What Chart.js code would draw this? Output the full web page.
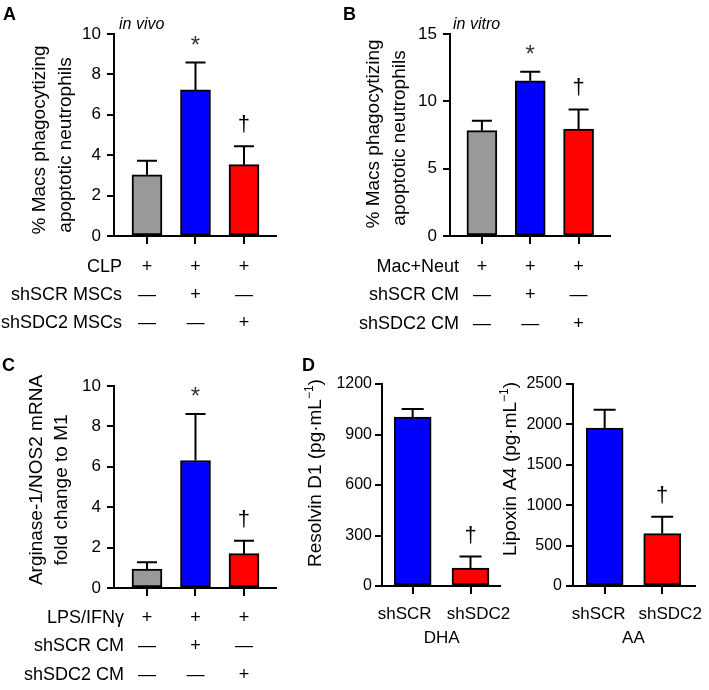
<!DOCTYPE html>
<html>
<head>
<meta charset="utf-8">
<title>Figure panels A-D</title>
<script src="https://cdn.jsdelivr.net/npm/chart.js@4.4.1/dist/chart.umd.min.js"></script>
<style>
  html, body { margin: 0; padding: 0; background: #fff; }
  #wrap { position: relative; width: 709px; height: 690px; overflow: hidden; }
  #wrap canvas { position: absolute; left: 0; top: 0; }
</style>
</head>
<body>
<div id="wrap">
  <canvas id="chartA" width="709" height="690"></canvas>
  <canvas id="chartB" width="709" height="690"></canvas>
  <canvas id="chartC" width="709" height="690"></canvas>
  <canvas id="chartD1" width="709" height="690"></canvas>
  <canvas id="chartD2" width="709" height="690"></canvas>
</div>
<script>
// ---- data ----
// A: in vivo
const rowLabelsA = ["CLP", "shSCR MSCs", "shSDC2 MSCs"];
const rowSignsA = [["+", "+", "+"], ["—", "+", "—"], ["—", "—", "+"]];
const valuesA = [3.03, 7.23, 3.53];
const errorsA = [3.73, 8.59, 4.44];
const marksA = ["", "*", "†"];
const ticksA = [0, 2, 4, 6, 8, 10];

// B: in vitro
const rowLabelsB = ["Mac+Neut", "shSCR CM", "shSDC2 CM"];
const rowSignsB = [["+", "+", "+"], ["—", "+", "—"], ["—", "—", "+"]];
const valuesB = [7.82, 11.53, 7.94];
const errorsB = [8.56, 12.2, 9.4];
const marksB = ["", "*", "†"];
const ticksB = [0, 5, 10, 15];

// C: arginase-1 / NOS2
const rowLabelsC = ["LPS/IFNγ", "shSCR CM", "shSDC2 CM"];
const rowSignsC = [["+", "+", "+"], ["—", "+", "—"], ["—", "—", "+"]];
const valuesC = [0.94, 6.31, 1.70];
const errorsC = [1.28, 8.62, 2.34];
const marksC = ["", "*", "†"];
const ticksC = [0, 2, 4, 6, 8, 10];

// D: resolvin D1 (DHA) and lipoxin A4 (AA)
const groupsD = ["shSCR", "shSDC2"];
const resolvinD1 = [1003, 106];
const resolvinErr = [1052, 175];
const marksD1 = ["", "†"];
const ticksD1 = [0, 300, 600, 900, 1200];
const lipoxinA4 = [1954, 649];
const lipoxinErr = [2180, 858];
const marksD2 = ["", "†"];
const ticksD2 = [0, 500, 1000, 1500, 2000, 2500];

const W = 709, H = 690;
const FONT = "'Liberation Sans', Arial, Helvetica, sans-serif";
const GREY = "#999999", BLUE = "#0000ff", RED = "#ff0000";

// draw text rotated -90deg, centred on cy, baseline at bx; parts may be superscript
function drawRotated(ctx, parts, bx, cy, size) {
  const main = size + "px " + FONT;
  const small = Math.round(size * 0.62) + "px " + FONT;
  ctx.save();
  ctx.translate(bx, cy);
  ctx.rotate(-Math.PI / 2);
  ctx.textAlign = "left";
  ctx.textBaseline = "alphabetic";
  let total = 0;
  const widths = parts.map(p => {
    ctx.font = p.sup ? small : main;
    const w = ctx.measureText(p.t).width;
    total += w;
    return w;
  });
  let x = -total / 2;
  parts.forEach((p, i) => {
    ctx.font = p.sup ? small : main;
    ctx.fillText(p.t, x, p.sup ? -size * 0.42 : 0);
    x += widths[i];
  });
  ctx.restore();
}

// centre the ink of a glyph on (x, cy)
function drawCentred(ctx, t, x, cy, font) {
  ctx.font = font;
  ctx.textAlign = "center";
  ctx.textBaseline = "alphabetic";
  const m = ctx.measureText(t);
  const asc = m.actualBoundingBoxAscent, desc = m.actualBoundingBoxDescent;
  ctx.fillText(t, x, cy + (asc - desc) / 2);
}

function makePanel(id, p) {
  const xs = p.values.map((v, i) => i);
  const extras = {
    id: "extras_" + id,
    afterDatasetsDraw(chart) {
      const ctx = chart.ctx, xS = chart.scales.x, yS = chart.scales.y;
      ctx.save();
      ctx.strokeStyle = "#000";
      ctx.fillStyle = "#000";
      ctx.lineWidth = 2;
      p.errors.forEach((e, i) => {
        const x = xS.getPixelForValue(i);
        const y0 = yS.getPixelForValue(p.values[i]);
        const y1 = yS.getPixelForValue(e);
        ctx.beginPath();
        ctx.moveTo(x, y0);
        ctx.lineTo(x, y1);
        ctx.moveTo(x - p.cap, y1);
        ctx.lineTo(x + p.cap, y1);
        ctx.stroke();
        const mk = p.marks[i];
        if (mk === "*") {
          ctx.fillStyle = "#333";
          drawCentred(ctx, mk, x, y1 - 22, "24px " + FONT);
          ctx.fillStyle = "#000";
        } else if (mk) {
          drawCentred(ctx, mk, x, y1 - 22, "22px " + FONT);
        }
      });
      ctx.restore();
    },
    afterDraw(chart) {
      const ctx = chart.ctx, xS = chart.scales.x;
      ctx.save();
      ctx.fillStyle = "#000";
      // axis titles
      p.titles.forEach(t => drawRotated(ctx, t.parts, t.x, t.y, 19));
      // condition table under the bars
      if (p.rows) {
        p.rows.labels.forEach((lab, r) => {
          const cy = p.rows.ys[r];
          ctx.font = "18px " + FONT;
          ctx.textAlign = "right";
          ctx.textBaseline = "alphabetic";
          ctx.fillText(lab, p.rows.right, cy + 6.5);
          p.rows.signs[r].forEach((s, i) => {
            ctx.textAlign = "center";
            ctx.fillText(s, xS.getPixelForValue(i), cy + 6.5);
          });
        });
      }
      // group labels under D panels
      if (p.groups) {
        ctx.font = "17px " + FONT;
        ctx.textAlign = "center";
        ctx.textBaseline = "alphabetic";
        p.groups.labels.forEach((g, i) => {
          ctx.fillText(g, xS.getPixelForValue(i) + p.groups.nudge[i], p.groups.y + 6);
        });
        ctx.fillText(p.groups.name, (xS.getPixelForValue(0) + xS.getPixelForValue(1)) / 2, p.groups.nameY + 6);
      }
      // panel letters and notes
      (p.texts || []).forEach(t => {
        ctx.font = t.font + " " + FONT;
        ctx.textAlign = "left";
        ctx.textBaseline = "alphabetic";
        ctx.fillText(t.t, t.x, t.y);
      });
      ctx.restore();
    }
  };

  const yMax = p.yTicks[p.yTicks.length - 1];
  return new Chart(document.getElementById(id), {
    type: "bar",
    data: {
      datasets: [{
        data: p.values.map((v, i) => ({ x: i, y: v })),
        backgroundColor: p.colors,
        borderColor: "#000",
        borderWidth: 2,
        borderSkipped: false,
        barThickness: p.barWidth
      }]
    },
    options: {
      responsive: false,
      animation: false,
      events: [],
      layout: {
        padding: { left: p.left - 60, right: W - p.right, top: p.top, bottom: H - p.bottom - 10 }
      },
      plugins: { legend: { display: false }, tooltip: { enabled: false } },
      scales: {
        x: {
          type: "linear",
          offset: false,
          min: p.xMin,
          max: p.xMax,
          afterBuildTicks: s => { s.ticks = xs.map(v => ({ value: v })); },
          afterFit: s => { s.height = 10; },
          ticks: { display: false },
          grid: { offset: false, drawOnChartArea: false, color: "#000", lineWidth: 2, tickLength: 8 },
          border: { color: "#000", width: 2 }
        },
        y: {
          min: p.yTicks[0],
          max: yMax,
          afterBuildTicks: s => { s.ticks = p.yTicks.map(v => ({ value: v })); },
          afterFit: s => { s.width = 60; },
          ticks: {
            color: "#000",
            padding: p.tickPad,
            font: { family: FONT, size: p.tickSize },
            callback: v => String(v)
          },
          grid: { drawOnChartArea: false, color: "#000", lineWidth: 2, tickLength: 7 },
          border: { color: "#000", width: 2 }
        }
      }
    },
    plugins: [extras]
  });
}

makePanel("chartA", {
  values: valuesA, errors: errorsA, marks: marksA, yTicks: ticksA,
  colors: [GREY, BLUE, RED], barWidth: 30, cap: 10,
  left: 114, right: 276, top: 34, bottom: 236, xMin: -0.68, xMax: 2.66,
  tickSize: 17, tickPad: 6,
  titles: [
    { parts: [{ t: "% Macs phagocytizing" }], x: 45, y: 140 },
    { parts: [{ t: "apoptotic neutrophils" }], x: 71, y: 145 }
  ],
  rows: { labels: rowLabelsA, signs: rowSignsA, right: 122, ys: [265, 293, 321] },
  texts: [
    { t: "A", x: 3, y: 20, font: "bold 18px" },
    { t: "in vivo", x: 119, y: 29, font: "italic 16px" }
  ]
});

makePanel("chartB", {
  values: valuesB, errors: errorsB, marks: marksB, yTicks: ticksB,
  colors: [GREY, BLUE, RED], barWidth: 30, cap: 10,
  left: 450, right: 610, top: 34, bottom: 236, xMin: -0.66, xMax: 2.65,
  tickSize: 17, tickPad: 6,
  titles: [
    { parts: [{ t: "% Macs phagocytizing" }], x: 379, y: 134 },
    { parts: [{ t: "apoptotic neutrophils" }], x: 405, y: 138 }
  ],
  rows: { labels: rowLabelsB, signs: rowSignsB, right: 459, ys: [265, 293, 322] },
  texts: [
    { t: "B", x: 343, y: 20, font: "bold 18px" },
    { t: "in vitro", x: 453, y: 29, font: "italic 16px" }
  ]
});

makePanel("chartC", {
  values: valuesC, errors: errorsC, marks: marksC, yTicks: ticksC,
  colors: [GREY, BLUE, RED], barWidth: 30, cap: 10,
  left: 114, right: 276, top: 386, bottom: 588, xMin: -0.68, xMax: 2.66,
  tickSize: 17, tickPad: 6,
  titles: [
    { parts: [{ t: "Arginase-1/NOS2 mRNA" }], x: 42, y: 480 },
    { parts: [{ t: "fold change to M1" }], x: 67, y: 490 }
  ],
  rows: { labels: rowLabelsC, signs: rowSignsC, right: 124, ys: [616, 644, 673] },
  texts: [{ t: "C", x: 2, y: 371, font: "bold 18px" }]
});

makePanel("chartD1", {
  values: resolvinD1, errors: resolvinErr, marks: marksD1, yTicks: ticksD1,
  colors: [BLUE, RED], barWidth: 37, cap: 11,
  left: 382, right: 500, top: 384, bottom: 586, xMin: -0.53, xMax: 1.51,
  tickSize: 16, tickPad: 3,
  titles: [
    { parts: [{ t: "Resolvin D1 (pg·mL" }, { t: "−1", sup: true }, { t: ")" }], x: 321, y: 473 }
  ],
  groups: { labels: groupsD, nudge: [-8, 8], y: 613, name: "DHA", nameY: 637 },
  texts: [{ t: "D", x: 302, y: 371, font: "bold 18px" }]
});

makePanel("chartD2", {
  values: lipoxinA4, errors: lipoxinErr, marks: marksD2, yTicks: ticksD2,
  colors: [BLUE, RED], barWidth: 37, cap: 11,
  left: 573, right: 695, top: 384, bottom: 586, xMin: -0.55, xMax: 1.57,
  tickSize: 16, tickPad: 4,
  titles: [
    { parts: [{ t: "Lipoxin A4 (pg·mL" }, { t: "−1", sup: true }, { t: ")" }], x: 516, y: 469 }
  ],
  groups: { labels: groupsD, nudge: [-6, 8], y: 613, name: "AA", nameY: 637 }
});
</script>
</body>
</html>
